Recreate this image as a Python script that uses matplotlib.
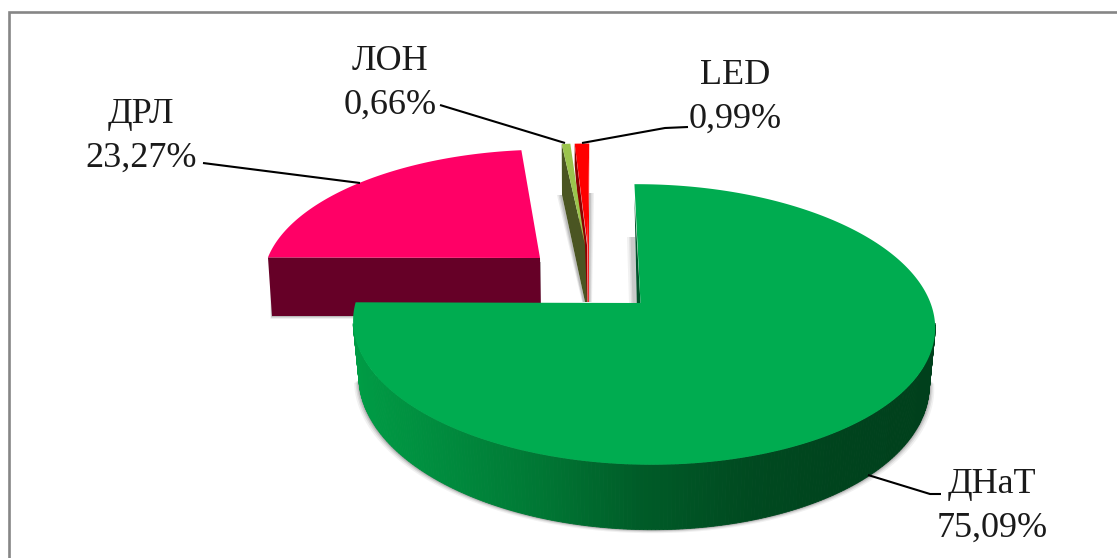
import numpy as np
import matplotlib
matplotlib.use("Agg")
import matplotlib.pyplot as plt
from matplotlib.patches import Polygon
from matplotlib.colors import LinearSegmentedColormap

categories = ["ДНаТ", "ДРЛ", "ЛОН", "LED"]
values = [75.09, 23.27, 0.66, 0.99]
value_labels = ["75,09%", "23,27%", "0,66%", "0,99%"]

W, H = 1117, 558
fig = plt.figure(figsize=(W / 100, H / 100), dpi=100)
ax = fig.add_axes([0, 0, 1, 1])
ax.set_xlim(0, W)
ax.set_ylim(H, 0)
ax.axis("off")

total = sum(values)
edges = np.cumsum([0] + values) / total

KY = 0.153


def project(f, x0, y0, R, A, s, j=0.0):
    f = np.asarray(f, float)
    u, v = np.sin(2 * np.pi * f), np.cos(2 * np.pi * f)
    d = 1 + KY * v + j * u
    return x0 + (R * u + s * v) / d, y0 - A * v / d, d


def poly(xy, color, z, **kw):
    ax.add_patch(Polygon(np.asarray(xy), closed=True, facecolor=color,
                         edgecolor=kw.pop("edgecolor", "none"), zorder=z, **kw))


# frame
ax.plot([8.5, 8.5, W + 5], [H + 5, 12.3, 12.3], color="#868686", lw=1.9, zorder=0,
        solid_joinstyle="miter")

# ---------- red/light-green slivers ----------
def sliver(i, x0, y0, R, side):
    f = np.linspace(edges[i], edges[i + 1], 8)
    x, y, _ = project(f, x0, y0, R, 117, side, 0)
    return x, y


# LON
x, y = sliver(2, 585, 245, 240, -2)
for g, a in ((5, .10), (3.5, .14), (2, .2)):
    poly([(562 - g, 195), (562, 195), (585, 302), (584 - g * .4, 302)], "#555555", 3, alpha=a)
# LED
xr, yr = sliver(3, 587.5, 245, 270, 2)
for g, a in ((5, .10), (3.5, .14), (2, .2)):
    poly([(589, 193), (589 + g, 193), (589 + g * .6, 302), (588, 302)], "#666666", 3, alpha=a)
poly([(xr[0], yr[0]), (587, 245), (587.5, 302), (586, 302), (xr[0], 165)], "#8c0000", 5)
poly(np.column_stack([np.r_[x, 585], np.r_[y, 245]]), "#9bc44d", 7)
poly([(x[0], y[0]), (562, 195), (585, 302), (587, 302), (585, 245)], "#4a5522", 6)
poly(np.column_stack([np.r_[xr, 587.5], np.r_[yr, 245]]), "#ff0000", 5.5)
poly([(587.5, 245), (xr[-1], yr[-1]), (xr[-1] - .5, 302), (587.7, 302)], "#ff0000", 5.5)

# ---------- pink slice ----------
f = np.linspace(edges[1], edges[2], 80)
x, y, d = project(f, 540, 258, 275, 125, 7, -0.01)
wall = [(x[0], y[0]), (540, 258), (541, 316), (x[0] + 4, 316)]
for g, a in ((3, .10), (2, .15), (1, .25)):
    poly([(x[0] + 3 - g * .5, 262), (x[0] + 4 - g * .5, 316 + g), (541, 316 + g), (541, 262)], "#666666", 1.5, alpha=a)
poly(wall, "#660027", 2)
poly(np.column_stack([np.r_[x, 540], np.r_[y, 258]]), "#ff0066", 2.5)

# ---------- green slice ----------
f = np.linspace(edges[0], edges[1], 400)
X0, Y0 = 640.5, 303
x, y, d = project(f, X0, Y0, 287.5, 137, -7, -0.0086)
scale = 0.98
xb = 643 + (x - 643) * scale
yb = y + 55 / d

# shadow of the rim
front = y >= 322
for g, a in ((5, .08), (3.5, .12), (2.2, .18), (1.0, .28)):
    sx = 643 + (xb[front] - 643) * (1 + g / 291)
    sy = yb[front] + g * .7
    poly(np.column_stack([sx, sy]), "#505050", 8, alpha=a)

# side wall, coloured band by band along x
stops = [(352, "#009c45"), (450, "#008a3d"), (550, "#007533"), (640, "#005c28"),
         (750, "#004a20"), (850, "#00431d"), (934, "#00401c")]
cmap = LinearSegmentedColormap.from_list(
    "wall", [((p - 352) / (934 - 352), c) for p, c in stops])
idx = np.where(front)[0]
for a, b in zip(idx[:-1], idx[1:]):
    if b != a + 1:
        continue
    color = cmap((x[a] - 352) / (934 - 352))
    poly([(x[a], y[a]), (x[b], y[b]), (xb[b], yb[b]), (xb[a], yb[a])], color, 9,
         linewidth=.6, edgecolor=color)

# radial cut at 12 o'clock
for g, a in ((8, .10), (6, .14), (4.5, .2)):
    poly([(635, 237), (637, 303), (637 - g, 303), (635 - g, 237)], "#777777", 3, alpha=a)
poly([(x[0], y[0] + 14), (X0, Y0), (X0 - 3.7, Y0)], "#00532a", 9.5)
poly(np.column_stack([np.r_[x, X0], np.r_[y, Y0]]), "#00ac50", 10)

# ---------- leader lines ----------
leaders = [
    [(868, 475), (930, 494), (941, 494)],
    [(203, 163), (360, 183)],
    [(440, 105), (565, 143)],
    [(582, 143), (665, 128), (688, 127)],
]
for pts in leaders:
    p = np.array(pts)
    ax.plot(p[:, 0], p[:, 1], color="black", lw=1.5, zorder=11, solid_capstyle="butt")

# ---------- labels ----------
anchors = [(992, 506), (141, 136), (390, 83), (735, 97)]
for name, lab, (tx, ty) in zip(categories, value_labels, anchors):
    ax.text(tx, ty, f"{name}\n{lab}", family="Liberation Serif", fontsize=26,
            ha="center", va="center", color="#1a1a1a", linespacing=1.42, zorder=12)

fig.savefig("out.png", dpi=100, facecolor="white")
